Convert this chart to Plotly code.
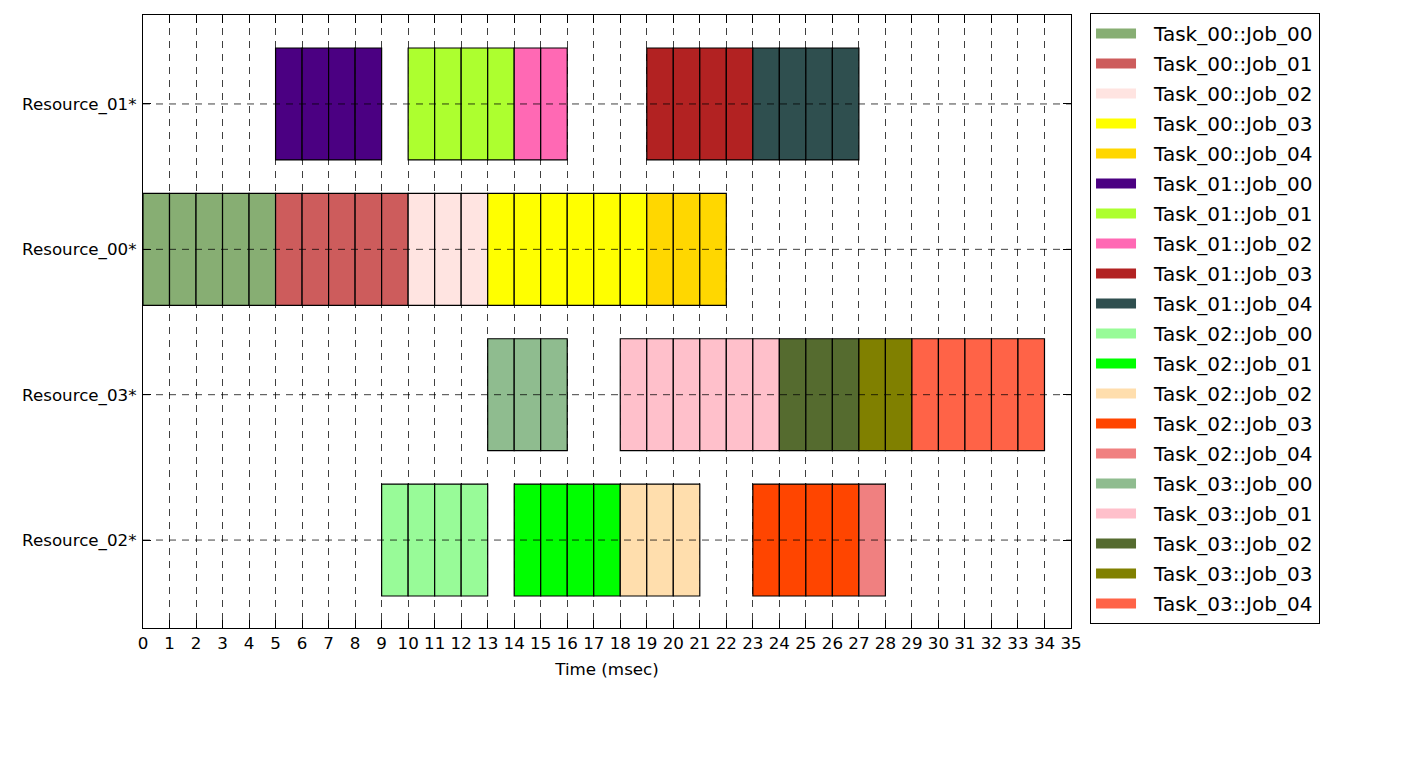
import plotly.graph_objects as go

# Resources, top to bottom
resources = ["Resource_01*", "Resource_00*", "Resource_03*", "Resource_02*"]

# Jobs (legend order)
job_names = [
    "Task_00::Job_00", "Task_00::Job_01", "Task_00::Job_02", "Task_00::Job_03", "Task_00::Job_04",
    "Task_01::Job_00", "Task_01::Job_01", "Task_01::Job_02", "Task_01::Job_03", "Task_01::Job_04",
    "Task_02::Job_00", "Task_02::Job_01", "Task_02::Job_02", "Task_02::Job_03", "Task_02::Job_04",
    "Task_03::Job_00", "Task_03::Job_01", "Task_03::Job_02", "Task_03::Job_03", "Task_03::Job_04",
]
job_resource = [
    "Resource_00*", "Resource_00*", "Resource_00*", "Resource_00*", "Resource_00*",
    "Resource_01*", "Resource_01*", "Resource_01*", "Resource_01*", "Resource_01*",
    "Resource_02*", "Resource_02*", "Resource_02*", "Resource_02*", "Resource_02*",
    "Resource_03*", "Resource_03*", "Resource_03*", "Resource_03*", "Resource_03*",
]
job_start = [0, 5, 10, 13, 19,
             5, 10, 14, 19, 23,
             9, 14, 18, 23, 27,
             13, 18, 24, 27, 29]
job_duration = [5, 5, 3, 6, 3,
                4, 4, 2, 4, 4,
                4, 4, 3, 4, 1,
                3, 6, 3, 2, 5]
job_colors = [
    "#87AE73", "#CD5C5C", "#FFE4E1", "#FFFF00", "#FFD700",
    "#4B0082", "#ADFF2F", "#FF69B4", "#B22222", "#2F4F4F",
    "#98FB98", "#00FF00", "#FFDEAD", "#FF4500", "#F08080",
    "#8FBC8F", "#FFC0CB", "#556B2F", "#808000", "#FF6347",
]

x_ticks = list(range(0, 36))

fig = go.Figure()

for name, res, st, du, col in zip(job_names, job_resource, job_start, job_duration, job_colors):
    yi = resources.index(res)
    bases = [st + k for k in range(du)]
    fig.add_trace(go.Bar(
        orientation="h",
        x=[1] * du,
        base=bases,
        y=[yi] * du,
        width=0.77,
        marker=dict(color=col, line=dict(color="black", width=1.2)),
        name=name,
        legendgroup=name,
        showlegend=False,
        hoverinfo="name",
    ))
    # legend patch (dashed so the visible part is 40px wide)
    fig.add_trace(go.Scatter(
        x=[None], y=[None],
        mode="lines",
        line=dict(color=col, width=15, dash="40px,200px"),
        name=name,
        legendgroup=name,
        showlegend=True,
    ))

# horizontal dashed grid lines drawn above bars
for i, r in enumerate(resources):
    fig.add_shape(type="line", xref="paper", x0=0, x1=1, yref="y", y0=i, y1=i,
                  line=dict(color="rgba(0,0,0,0.75)", width=1, dash="7px,6px"), layer="above")

fig.update_layout(
    width=1427, height=767,
    margin=dict(l=143, r=356, t=15, b=139),
    paper_bgcolor="white", plot_bgcolor="white",
    barmode="overlay",
    font=dict(family="DejaVu Sans", size=16.7, color="black"),
    showlegend=True,
    legend=dict(
        x=1.0205, y=0.505, xanchor="left", yanchor="middle",
        bordercolor="black", borderwidth=1, bgcolor="white",
        font=dict(family="DejaVu Sans", size=20, color="black"),
        traceorder="grouped", tracegroupgap=1,
        itemwidth=53,
    ),
    xaxis=dict(
        range=[0, 35], tickmode="array", tickvals=x_ticks, ticktext=[str(t) for t in x_ticks],
        showgrid=True, gridcolor="rgba(0,0,0,0.75)", gridwidth=1, griddash="7px,6px",
        showline=True, linecolor="black", linewidth=1.2, mirror="ticks",
        ticks="inside", ticklen=8, tickcolor="black",
        zeroline=False,
        title=dict(text="Time (msec)", font=dict(size=16.7), standoff=11),
    ),
    yaxis=dict(
        range=[3.605, -0.612], tickmode="array", tickvals=list(range(len(resources))), ticktext=resources,
        showgrid=False,
        showline=True, linecolor="black", linewidth=1.2, mirror="ticks",
        ticks="inside", ticklen=8, tickcolor="black",
        ticklabelstandoff=2,
        zeroline=False,
    ),
)

fig.write_html("out.html")
